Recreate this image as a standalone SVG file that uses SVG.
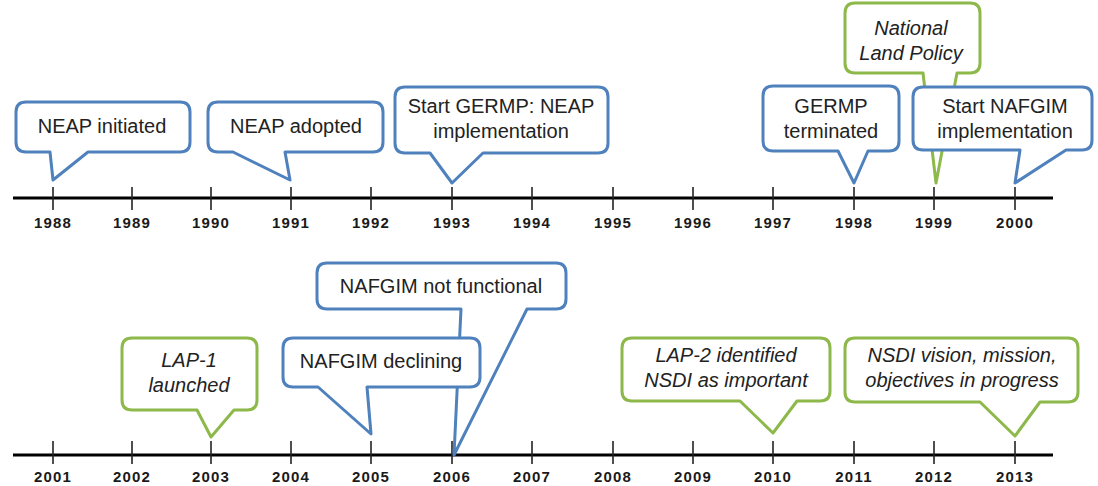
<svg xmlns="http://www.w3.org/2000/svg" width="1098" height="486" viewBox="0 0 1098 486">
<style>
.axis{stroke:#000;stroke-width:3.2;fill:none}
.tick{stroke:#222;stroke-width:1.6}
.yr{font-family:"Liberation Sans",Arial,sans-serif;font-weight:bold;font-size:15px;letter-spacing:1.2px;fill:#1a1a1a;text-anchor:middle}
.blue{fill:#fff;stroke:#4f81bd;stroke-width:3;stroke-linejoin:round}
.green{fill:#fff;stroke:#8db84a;stroke-width:3;stroke-linejoin:round}
.t{font-family:"Liberation Sans",Arial,sans-serif;font-size:20px;fill:#222;text-anchor:middle}
.ti{font-family:"Liberation Sans",Arial,sans-serif;font-size:20px;font-style:italic;fill:#222;text-anchor:middle}
</style>
<g id="axes">
<line class="axis" x1="13" y1="198" x2="1053" y2="198"/>
<line class="axis" x1="13" y1="455" x2="1053" y2="455"/>
<g id="ticks-top">
<line class="tick" x1="53" y1="187" x2="53" y2="210"/>
<line class="tick" x1="132" y1="187" x2="132" y2="210"/>
<line class="tick" x1="211" y1="187" x2="211" y2="210"/>
<line class="tick" x1="291" y1="187" x2="291" y2="210"/>
<line class="tick" x1="371" y1="187" x2="371" y2="210"/>
<line class="tick" x1="452" y1="187" x2="452" y2="210"/>
<line class="tick" x1="532" y1="187" x2="532" y2="210"/>
<line class="tick" x1="613" y1="187" x2="613" y2="210"/>
<line class="tick" x1="693" y1="187" x2="693" y2="210"/>
<line class="tick" x1="773" y1="187" x2="773" y2="210"/>
<line class="tick" x1="854" y1="187" x2="854" y2="210"/>
<line class="tick" x1="934" y1="187" x2="934" y2="210"/>
<line class="tick" x1="1015" y1="187" x2="1015" y2="210"/>
</g>
<g id="ticks-bottom">
<line class="tick" x1="53" y1="441" x2="53" y2="464"/>
<line class="tick" x1="132" y1="441" x2="132" y2="464"/>
<line class="tick" x1="211" y1="441" x2="211" y2="464"/>
<line class="tick" x1="291" y1="441" x2="291" y2="464"/>
<line class="tick" x1="371" y1="441" x2="371" y2="464"/>
<line class="tick" x1="452" y1="441" x2="452" y2="464"/>
<line class="tick" x1="532" y1="441" x2="532" y2="464"/>
<line class="tick" x1="613" y1="441" x2="613" y2="464"/>
<line class="tick" x1="693" y1="441" x2="693" y2="464"/>
<line class="tick" x1="773" y1="441" x2="773" y2="464"/>
<line class="tick" x1="854" y1="441" x2="854" y2="464"/>
<line class="tick" x1="934" y1="441" x2="934" y2="464"/>
<line class="tick" x1="1015" y1="441" x2="1015" y2="464"/>
</g>
<g id="years-top">
<text class="yr" x="53" y="228">1988</text>
<text class="yr" x="132" y="228">1989</text>
<text class="yr" x="211" y="228">1990</text>
<text class="yr" x="291" y="228">1991</text>
<text class="yr" x="371" y="228">1992</text>
<text class="yr" x="452" y="228">1993</text>
<text class="yr" x="532" y="228">1994</text>
<text class="yr" x="613" y="228">1995</text>
<text class="yr" x="693" y="228">1996</text>
<text class="yr" x="773" y="228">1997</text>
<text class="yr" x="854" y="228">1998</text>
<text class="yr" x="934" y="228">1999</text>
<text class="yr" x="1015" y="228">2000</text>
</g>
<g id="years-bottom">
<text class="yr" x="53" y="482">2001</text>
<text class="yr" x="132" y="482">2002</text>
<text class="yr" x="211" y="482">2003</text>
<text class="yr" x="291" y="482">2004</text>
<text class="yr" x="371" y="482">2005</text>
<text class="yr" x="452" y="482">2006</text>
<text class="yr" x="532" y="482">2007</text>
<text class="yr" x="613" y="482">2008</text>
<text class="yr" x="693" y="482">2009</text>
<text class="yr" x="773" y="482">2010</text>
<text class="yr" x="854" y="482">2011</text>
<text class="yr" x="934" y="482">2012</text>
<text class="yr" x="1015" y="482">2013</text>
</g>
</g>
<g id="connectors"></g>
<g id="neap-initiated">
<path class="blue" d="M26,102 H180 Q190,102 190,112 V142 Q190,152 180,152 H88 L53,180 L50,152 H26 Q16,152 16,142 V112 Q16,102 26,102 Z"/>
<text class="t" x="102" y="133">NEAP initiated</text>
</g>
<g id="neap-adopted">
<path class="blue" d="M218,102 H373 Q383,102 383,112 V142 Q383,152 373,152 H285 L290,180 L233,152 H218 Q208,152 208,142 V112 Q208,102 218,102 Z"/>
<text class="t" x="296" y="133">NEAP adopted</text>
</g>
<g id="start-germp">
<path class="blue" d="M405,87 H598 Q608,87 608,97 V143 Q608,153 598,153 H483 L452,183 L430,153 H405 Q395,153 395,143 V97 Q395,87 405,87 Z"/>
<text class="t" x="501" y="113">Start GERMP: NEAP</text>
<text class="t" x="501" y="138">implementation</text>
</g>
<g id="germp-terminated">
<path class="blue" d="M773,86 H889 Q899,86 899,96 V141 Q899,151 889,151 H868 L854,183 L838,151 H773 Q763,151 763,141 V96 Q763,86 773,86 Z"/>
<text class="t" x="831" y="113">GERMP</text>
<text class="t" x="831" y="138">terminated</text>
</g>
<g id="national-land-policy">
<path class="green" d="M855,3 H970 Q980,3 980,13 V63 Q980,73 970,73 H957 L936,183 L923,73 H855 Q845,73 845,63 V13 Q845,3 855,3 Z"/>
<text class="ti" x="911" y="35">National</text>
<text class="ti" x="911" y="60">Land Policy</text>
</g>
<g id="start-nafgim">
<path class="blue" d="M923,87 H1082 Q1092,87 1092,97 V140 Q1092,150 1082,150 H1066 L1015,183 L1020,150 H923 Q913,150 913,140 V97 Q913,87 923,87 Z"/>
<text class="t" x="1005" y="113">Start NAFGIM</text>
<text class="t" x="1005" y="138">implementation</text>
</g>
<g id="nafgim-not-functional">
<path class="blue" d="M327,263 H556 Q566,263 566,273 V299 Q566,309 556,309 H527 L454,455 L461,309 H327 Q317,309 317,299 V273 Q317,263 327,263 Z"/>
<text class="t" x="441" y="293">NAFGIM not functional</text>
</g>
<g id="nafgim-declining">
<path class="blue" d="M293,338 H470 Q480,338 480,348 V377 Q480,387 470,387 H367 L371,434 L318,387 H293 Q283,387 283,377 V348 Q283,338 293,338 Z"/>
<text class="t" x="381" y="368">NAFGIM declining</text>
</g>
<g id="lap-1">
<path class="green" d="M132,338 H247 Q257,338 257,348 V400 Q257,410 247,410 H234 L211,437 L197,410 H132 Q122,410 122,400 V348 Q122,338 132,338 Z"/>
<text class="ti" x="189" y="367">LAP-1</text>
<text class="ti" x="189" y="392">launched</text>
</g>
<g id="lap-2">
<path class="green" d="M632,338 H820 Q830,338 830,348 V391 Q830,401 820,401 H797 L773,433 L740,401 H632 Q622,401 622,391 V348 Q622,338 632,338 Z"/>
<text class="ti" x="726" y="362">LAP-2 identified</text>
<text class="ti" x="726" y="387">NSDI as important</text>
</g>
<g id="nsdi-vision">
<path class="green" d="M855,338 H1068 Q1078,338 1078,348 V392 Q1078,402 1068,402 H1040 L1015,436 L980,402 H855 Q845,402 845,392 V348 Q845,338 855,338 Z"/>
<text class="ti" x="962" y="362">NSDI vision, mission,</text>
<text class="ti" x="962" y="387">objectives in progress</text>
</g>
</svg>
